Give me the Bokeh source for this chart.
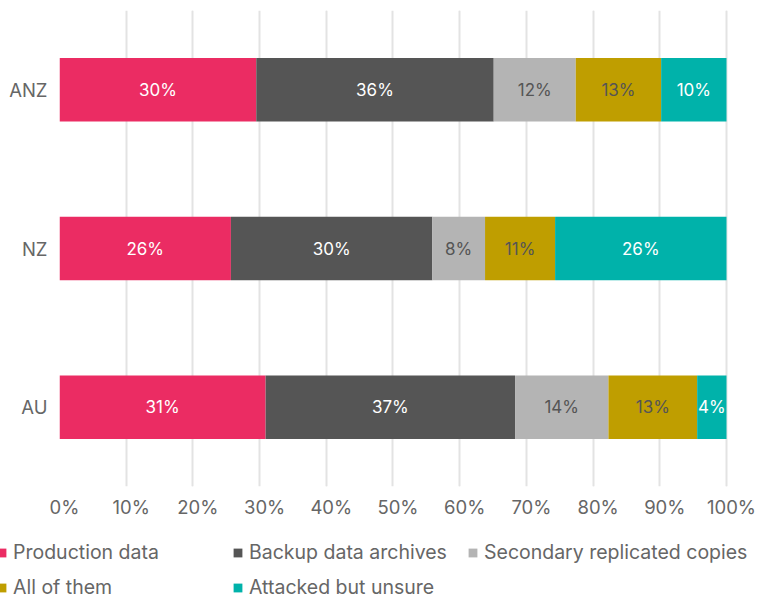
from bokeh.plotting import figure
from bokeh.models import (ColumnDataSource, FactorRange, Range1d, FixedTicker,
                          PrintfTickFormatter, Legend, LegendItem, LinearAxis, Grid)
from bokeh.core.properties import value
from bokeh.embed import file_html
from bokeh.resources import INLINE

regions = ["AU", "NZ", "ANZ"]
series = ["Production data", "Backup data archives", "Secondary replicated copies",
          "All of them", "Attacked but unsure"]
production = [30.9, 25.7, 29.5]
backup = [37.4, 30.2, 35.6]
secondary = [14.0, 7.9, 12.3]
all_of_them = [13.3, 10.5, 12.8]
unsure = [4.4, 25.7, 9.8]
label_production = ["31%", "26%", "30%"]
label_backup = ["37%", "30%", "36%"]
label_secondary = ["14%", "8%", "12%"]
label_all = ["13%", "11%", "13%"]
label_unsure = ["4%", "26%", "10%"]
x_ticks = [0, 10, 20, 30, 40, 50, 60, 70, 80, 90, 100]

colors = ["#EB2C63", "#555555", "#B4B4B4", "#BF9E00", "#00B2AA"]
label_colors = ["#ffffff", "#ffffff", "#555555", "#555555", "#ffffff"]
keys = ["production", "backup", "secondary", "all_of_them", "unsure"]
values = [production, backup, secondary, all_of_them, unsure]
labels = [label_production, label_backup, label_secondary, label_all, label_unsure]

FONT = "Inter"
GREY = "#666666"
SHIFT = 0.75  # the reference draws tick labels ~5px right of each gridline

data = {"region": regions}
for k, v in zip(keys, values):
    data[k] = v
source = ColumnDataSource(data)

p = figure(width=760, height=528, output_backend="svg", toolbar_location=None,
           y_range=FactorRange(factors=regions, range_padding=0),
           x_range=Range1d(0, 100 + SHIFT), x_axis_location=None,
           min_border_left=59, min_border_right=29, min_border_top=10,
           min_border_bottom=42)
p.outline_line_color = None

renderers = p.hbar_stack(keys, y="region", height=0.4, color=colors,
                         line_color=None, source=source)

# segment labels
for i, (v, lab) in enumerate(zip(values, labels)):
    xs, ys = [], []
    for j, r in enumerate(regions):
        left = sum(values[k][j] for k in range(i))
        xs.append(left + v[j] / 2)
        ys.append(r)
    p.text(x=xs, y=ys, text=lab, text_align="center", text_baseline="middle",
           text_font=value(FONT), text_font_size="17px", text_color=label_colors[i])

p.extra_x_ranges = {"labels": Range1d(-SHIFT, 100)}
xaxis = LinearAxis(x_range_name="labels", ticker=FixedTicker(ticks=x_ticks),
                   formatter=PrintfTickFormatter(format="%d%%"))
p.add_layout(xaxis, "below")
p.add_layout(Grid(dimension=0, ticker=FixedTicker(ticks=x_ticks),
                  grid_line_color="#e3e3e3", grid_line_width=2))

for ax, standoff in ((xaxis, 3), (p.yaxis[0], 6)):
    ax.axis_line_color = None
    ax.major_tick_line_color = None
    ax.minor_tick_line_color = None
    ax.major_label_standoff = standoff
    ax.major_label_text_font = FONT
    ax.major_label_text_font_size = "18.5px"
    ax.major_label_text_color = GREY
p.ygrid.grid_line_color = None

# legend figure below the chart (separate root, so its frame spans the full width)
LH = 68
lf = figure(width=760, height=LH, output_backend="svg", toolbar_location=None,
            x_range=Range1d(0, 1), y_range=Range1d(0, 1),
            x_axis_location=None, y_axis_location=None,
            min_border=0, min_border_left=0, min_border_right=0,
            min_border_top=0, min_border_bottom=0)
lf.outline_line_color = None
lf.xgrid.grid_line_color = None
lf.ygrid.grid_line_color = None
swatches = [lf.hbar(y=[0.5], left=[0], right=[0], height=0.5, color=c, line_color=None)
            for c in colors]

ITEM_H, GAP, TOP = 24, 11, 12
columns = [[0, 3], [1, 4], [2]]
col_x = [-4, 232, 467]
for cx, idx in zip(col_x, columns):
    items = [LegendItem(label=series[i], renderers=[swatches[i]]) for i in idx]
    h = ITEM_H * len(idx) + GAP * (len(idx) - 1)
    lg = Legend(items=items, location=(cx, LH - TOP - h),
                orientation="vertical", padding=0, margin=0, spacing=GAP,
                glyph_width=11, glyph_height=11, label_standoff=6,
                label_height=ITEM_H, label_text_font=FONT, label_text_font_size="19.5px",
                label_text_color=GREY, label_text_baseline="middle",
                border_line_color=None, background_fill_alpha=0)
    lf.add_layout(lg, "center")

open("out.html", "w").write(file_html([p, lf], INLINE))
